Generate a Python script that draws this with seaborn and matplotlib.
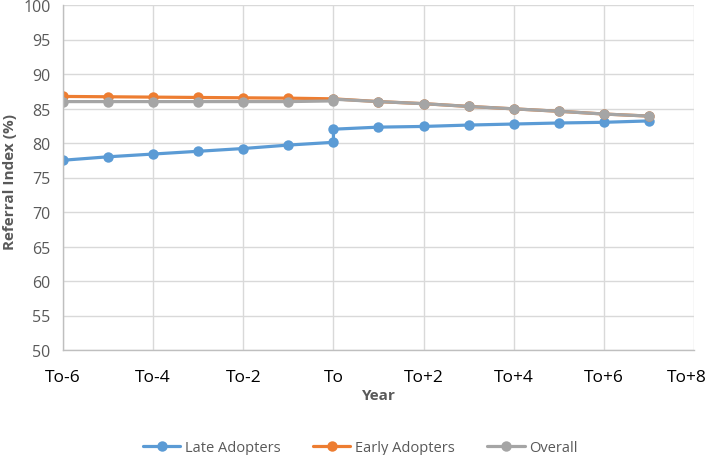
import pandas as pd
import numpy as np
import matplotlib
matplotlib.use('Agg')
import matplotlib.pyplot as plt
import matplotlib.transforms as mtransforms
import seaborn as sns

# years relative to adoption (To); 0 appears twice where the series steps
late_x = [-6, -5, -4, -3, -2, -1, 0, 0, 1, 2, 3, 4, 5, 6, 7]
late_y = [77.5, 78.0, 78.4, 78.8, 79.2, 79.7, 80.1, 82.0, 82.3, 82.4, 82.6, 82.75, 82.9, 83.0, 83.2]

early_x = [-6, -5, -4, -3, -2, -1, 0, 1, 2, 3, 4, 5, 6, 7]
early_y = [86.75, 86.7, 86.65, 86.6, 86.55, 86.5, 86.4, 86.0, 85.7, 85.3, 84.95, 84.6, 84.2, 83.9]

overall_x = [-6, -5, -4, -3, -2, -1, 0, 0, 1, 2, 3, 4, 5, 6, 7]
overall_y = [86.0, 86.0, 86.0, 86.0, 86.0, 86.0, 86.1, 86.35, 86.0, 85.7, 85.3, 84.95, 84.6, 84.2, 83.9]

tick_pos = [-6, -4, -2, 0, 2, 4, 6, 8]
tick_labels = ['To-6', 'To-4', 'To-2', 'To', 'To+2', 'To+4', 'To+6', 'To+8']

series = ['Late Adopters', 'Early Adopters', 'Overall']
colors = ['#5B9BD5', '#ED7D31', '#A5A5A5']

df = pd.concat([
    pd.DataFrame({'Year': late_x, 'Value': late_y, 'Group': series[0]}),
    pd.DataFrame({'Year': early_x, 'Value': early_y, 'Group': series[1]}),
    pd.DataFrame({'Year': overall_x, 'Value': overall_y, 'Group': series[2]}),
], ignore_index=True)

sns.set_style('white')
plt.rcParams['font.family'] = ['Open Sans', 'DejaVu Sans']

fig = plt.figure(figsize=(7.09, 4.56), dpi=100)
ax = fig.add_axes([63 / 709, 1 - 351 / 456, (694 - 63) / 709, (351 - 6) / 456])

sns.lineplot(data=df, x='Year', y='Value', hue='Group', hue_order=series,
             palette=colors, estimator=None, sort=False, marker='o',
             markersize=7.5, markeredgewidth=0, linewidth=2.3, ax=ax)

ax.set_xlim(-6, 8)
ax.set_ylim(50, 100)
ax.set_xticks(tick_pos)
ax.set_xticklabels(tick_labels, fontsize=12.5, color='black')
ax.set_yticks(np.arange(50, 101, 5))
ax.tick_params(axis='y', labelsize=11.5, labelcolor='#595959', length=0, pad=9)
ax.tick_params(axis='x', length=0, pad=14)
# keep the last label inside the figure, as in the original
last = ax.get_xticklabels()[-1]
last.set_transform(last.get_transform() +
                   mtransforms.ScaledTranslation(-7 / 100, 0, fig.dpi_scale_trans))
ax.grid(True, color='#D9D9D9', linewidth=1)
ax.set_axisbelow(True)
for side in ['top', 'right']:
    ax.spines[side].set_visible(False)
for side in ['left', 'bottom']:
    ax.spines[side].set_color('#BFBFBF')
    ax.spines[side].set_linewidth(1)

ax.set_xlabel('Year', fontsize=11, fontweight='bold', color='#595959', labelpad=2)
ax.set_ylabel('Referral Index (%)', fontsize=11, fontweight='bold', color='#595959',
              va='center')
ax.yaxis.set_label_coords(-53 / 631, 0.49)

handles, labels = ax.get_legend_handles_labels()
ax.legend(handles, labels, loc='center', bbox_to_anchor=(360 / 709, 1 - 449 / 456),
          bbox_transform=fig.transFigure, ncol=3, frameon=False, fontsize=10.5,
          handlelength=2.6, columnspacing=2.2, handletextpad=0.3,
          labelcolor='#595959')

fig.savefig('out.png', dpi=100)
